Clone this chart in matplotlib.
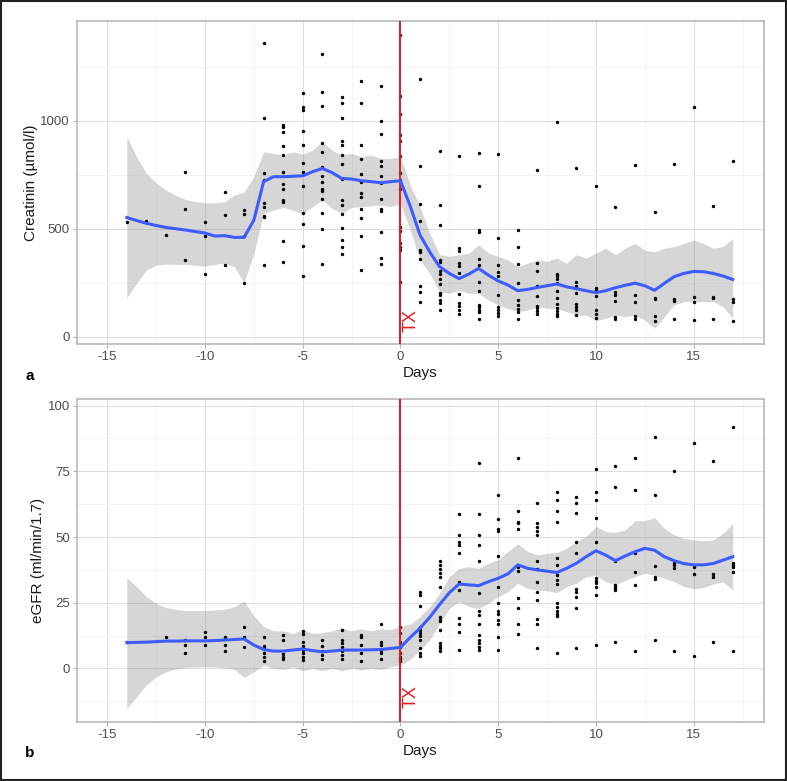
import matplotlib
matplotlib.use("Agg")
import matplotlib.pyplot as plt
from matplotlib.patches import Rectangle

plt.rcParams['font.family'] = ['Liberation Sans', 'DejaVu Sans']
plt.rcParams['axes.unicode_minus'] = False

# panel a: creatinin measurements per day
crea_x = ([-14] + [-13] + [-12] + [-11] * 3 + [-10] * 3 + [-9] * 3 + [-8] * 4 + [-7] * 9
          + [-6] * 12 + [-5] * 12 + [-4] * 14 + [-3] * 15 + [-2] * 12 + [-1] * 13 + [0] * 15
          + [1] * 10 + [2] * 14 + [3] * 11 + [4] * 13 + [5] * 10 + [6] * 9 + [7] * 9 + [8] * 12
          + [9] * 8 + [10] * 7 + [11] * 6 + [12] * 5 + [13] * 5 + [14] * 4 + [15] * 4 + [16] * 4 + [17] * 4)
crea_y = [529,
          537,
          472,
          762, 590, 355,
          532, 466, 289,
          668, 563, 330,
          586, 569, 466, 250,
          1358, 1012, 758, 725, 620, 602, 559, 552, 330,
          981, 971, 948, 881, 840, 762, 705, 682, 631, 622, 441, 344,
          1127, 1063, 1048, 952, 889, 804, 762, 699, 574, 523, 421, 279,
          1307, 1134, 1068, 895, 856, 787, 744, 718, 684, 677, 637, 571, 497, 338,
          1108, 1080, 1014, 906, 886, 843, 802, 730, 634, 611, 568, 503, 449, 415, 381,
          1185, 1080, 890, 823, 752, 715, 667, 647, 593, 548, 466, 310,
          1160, 997, 941, 813, 792, 745, 713, 637, 590, 582, 486, 366, 338,
          1397, 1116, 1032, 932, 906, 838, 756, 725, 684, 508, 488, 435, 417, 401, 255,
          1194, 789, 616, 535, 403, 391, 358, 235, 207, 159,
          861, 611, 515, 356, 346, 304, 289, 265, 242, 204, 191, 170, 157, 123,
          838, 410, 398, 343, 329, 296, 199, 156, 142, 123, 105,
          853, 696, 492, 485, 361, 330, 255, 210, 148, 137, 125, 113, 83,
          847, 458, 332, 301, 279, 194, 136, 123, 108, 96,
          494, 417, 335, 248, 170, 147, 127, 113, 80,
          770, 340, 302, 236, 188, 142, 131, 119, 106,
          992, 290, 279, 265, 250, 211, 181, 150, 131, 117, 106, 96,
          779, 255, 235, 202, 150, 137, 125, 99,
          699, 225, 216, 188, 123, 106, 85,
          599, 208, 191, 164, 93, 82,
          793, 194, 162, 94, 80,
          577, 181, 173, 97, 71,
          802, 174, 164, 83,
          1062, 184, 160, 76,
          605, 185, 178, 82,
          812, 176, 159, 71]

# panel b: eGFR measurements per day
egfr_x = ([-14] + [-12] + [-11] * 3 + [-10] * 3 + [-9] * 3 + [-8] * 3 + [-7] * 6 + [-6] * 5
          + [-5] * 8 + [-4] * 5 + [-3] * 7 + [-2] * 5 + [-1] * 6 + [0] * 8
          + [1] * 11 + [2] * 14 + [3] * 11 + [4] * 14 + [5] * 13 + [6] * 11 + [7] * 13 + [8] * 15
          + [9] * 10 + [10] * 11 + [11] * 8 + [12] * 6 + [13] * 6 + [14] * 5 + [15] * 4 + [16] * 4 + [17] * 6)
egfr_y = [9.9,
          11.8,
          11.0, 8.9, 5.7,
          14.0, 11.8, 8.9,
          11.8, 8.9, 6.7,
          15.9, 11.8, 8.0,
          11.9, 8.5, 7.5, 5.7, 4.5, 2.9,
          12.8, 10.8, 5.6, 4.5, 3.6,
          14.1, 13.1, 10.1, 8.5, 7.2, 5.9, 4.5, 3.2,
          10.8, 8.5, 6.7, 5.1, 3.4,
          14.8, 10.8, 9.8, 8.2, 6.7, 5.1, 3.6,
          12.8, 11.8, 8.9, 5.7, 2.9,
          16.9, 10.0, 8.8, 7.2, 5.7, 3.6,
          15.9, 13.6, 10.0, 8.0, 5.7, 4.5, 3.6, 2.9,
          29.1, 28.0, 23.9, 15.8, 14.5, 13.3, 12.3, 10.8, 7.9, 5.9, 4.9,
          40.9, 39.4, 37.9, 36.4, 34.9, 30.8, 19.7, 18.4, 17.9, 14.8, 9.7, 8.5, 7.7, 6.7,
          58.9, 50.9, 48.1, 46.8, 44.1, 32.7, 29.8, 19.0, 16.8, 13.8, 7.0,
          78.0, 58.9, 50.9, 46.8, 40.9, 28.8, 21.9, 20.2, 16.8, 12.8, 11.0, 9.5, 8.2, 7.0,
          65.9, 57.0, 53.2, 52.2, 42.8, 31.1, 25.0, 21.9, 20.9, 18.4, 16.8, 12.0, 7.0,
          80.1, 60.0, 55.9, 55.2, 52.9, 38.7, 36.9, 26.8, 22.9, 16.8, 13.0,
          63.1, 55.2, 53.7, 52.2, 50.9, 40.9, 37.9, 32.8, 29.1, 25.9, 18.9, 16.8, 7.9,
          67.2, 64.1, 60.0, 55.9, 42.0, 39.2, 35.4, 33.8, 32.1, 25.0, 23.2, 21.9, 20.9, 19.9, 5.9,
          65.1, 63.1, 59.0, 48.1, 44.1, 30.1, 29.1, 27.1, 22.9, 7.9,
          75.9, 67.0, 64.1, 57.1, 48.0, 34.4, 33.4, 32.6, 31.0, 27.9, 8.9,
          77.0, 68.9, 40.8, 31.9, 31.1, 30.3, 29.7, 9.9,
          80.1, 68.0, 44.0, 36.8, 31.8, 6.8,
          88.0, 65.9, 39.0, 34.9, 34.1, 10.9,
          75.0, 40.0, 39.2, 38.3, 6.8,
          85.9, 38.7, 35.8, 4.9,
          79.0, 36.0, 34.9, 9.9,
          91.9, 40.1, 39.4, 38.6, 36.8, 6.8]

smooth_x = [-14, -13.5, -13, -12.5, -12, -11.5, -11, -10.5, -10, -9.5, -9, -8.5, -8, -7.5,
            -7, -6.5, -6, -5.5, -5, -4.5, -4, -3.5, -3, -2.5, -2, -1.5, -1, -0.5, 0,
            0.5, 1, 1.5, 2, 2.5, 3, 3.5, 4, 4.5, 5, 5.5, 6, 6.5, 7, 7.5, 8, 8.5, 9, 9.5,
            10, 10.5, 11, 11.5, 12, 12.5, 13, 13.5, 14, 14.5, 15, 15.5, 16, 16.5, 17]

crea_fit = [552, 538, 525, 515, 506, 500, 494, 487, 480, 466, 468, 460, 460, 540,
            718, 741, 741, 743, 745, 764, 779, 760, 733, 730, 722, 718, 713, 718, 722,
            605, 471, 392, 324, 293, 269, 290, 316, 285, 258, 239, 213, 219, 228, 236, 244, 231, 222, 213,
            204, 213, 227, 238, 248, 236, 215, 247, 278, 293, 302, 301, 293, 281, 265]
crea_lo = [181, 247, 309, 332, 336, 335, 335, 331, 327, 335, 340, 324, 250, 386,
           571, 586, 599, 586, 568, 602, 633, 594, 571, 599, 602, 606, 610, 602, 617,
           494, 355, 293, 208, 201, 216, 201, 201, 170, 147, 131, 116, 123, 139, 131, 131, 116, 100, 100,
           74, 85, 100, 93, 100, 77, 39, 93, 147, 162, 162, 162, 162, 139, 85]
crea_hi = [926, 833, 756, 712, 679, 655, 636, 626, 620, 620, 625, 656, 670, 741,
           856, 849, 841, 856, 846, 864, 903, 864, 841, 849, 833, 841, 826, 826, 833,
           702, 602, 478, 380, 372, 380, 387, 426, 387, 372, 356, 324, 340, 356, 349, 364, 340, 380, 364,
           387, 410, 380, 410, 432, 401, 393, 410, 417, 432, 448, 432, 410, 417, 455]

egfr_fit = [9.8, 9.9, 10.0, 10.2, 10.4, 10.4, 10.5, 10.5, 10.5, 10.6, 10.8, 11.0, 11.2, 8.9,
            7.2, 6.6, 6.6, 7.0, 7.4, 6.8, 6.3, 6.6, 7.0, 7.0, 7.0, 7.1, 7.2, 7.6, 8.0,
            11.8, 15.3, 19.5, 24.3, 28.8, 32.1, 31.8, 31.5, 33.0, 34.3, 36.0, 39.4, 38.1, 37.5, 37.0, 36.5, 38.1, 40.0, 42.5,
            44.8, 43.1, 41.0, 42.8, 44.4, 45.7, 45.0, 42.5, 41.0, 39.9, 39.4, 39.4, 39.9, 41.2, 42.5]
egfr_lo = [-15.2, -10.8, -6.3, -3.2, -1.3, -0.3, 0.4, 0.6, 0.6, 0.5, 0.3, -0.4, -3.4, -1.3,
           1.3, 0.0, -0.4, 0.6, -0.9, 0.0, -0.9, 0.0, -0.9, 0.0, -0.6, 0.0, -0.4, 0.6, 1.3,
           3.4, 7.0, 10.8, 17.2, 22.8, 25.4, 23.5, 22.8, 24.7, 27.3, 29.2, 32.4, 30.5, 29.8, 29.6, 28.8, 31.1, 32.4, 34.9,
           35.5, 33.0, 31.7, 33.6, 34.9, 36.2, 35.5, 34.3, 33.0, 31.1, 30.3, 30.8, 32.1, 33.0, 29.8]
egfr_hi = [34.5, 31.1, 27.3, 24.7, 23.2, 22.5, 22.0, 22.0, 22.0, 22.2, 22.5, 23.5, 25.6, 20.0,
           15.9, 14.3, 14.3, 13.3, 14.8, 13.3, 13.6, 14.3, 15.4, 14.3, 15.1, 14.3, 15.1, 14.8, 16.0,
           16.9, 19.7, 23.5, 28.6, 34.9, 38.1, 38.7, 38.1, 40.0, 41.3, 44.5, 47.4, 44.5, 43.2, 43.8, 44.1, 45.7, 48.3, 50.2,
           54.0, 52.1, 51.8, 52.7, 56.2, 56.2, 57.4, 53.3, 50.8, 49.5, 48.9, 48.6, 48.9, 51.4, 55.2]

x_ticks = [-15, -10, -5, 0, 5, 10, 15]
crea_ticks = [0, 500, 1000]
egfr_ticks = [0, 25, 50, 75, 100]

fig = plt.figure(figsize=(7.87, 7.81), dpi=100)
ax_a = fig.add_axes([0.0978, 0.5595, 0.8730, 0.4136])
ax_b = fig.add_axes([0.0978, 0.0755, 0.8730, 0.4132])


def style(ax, yticks, ylim, yminor):
    ax.set_xlim(-16.55, 18.6)
    ax.set_ylim(*ylim)
    ax.set_xticks(x_ticks)
    ax.set_yticks(yticks)
    ax.set_xticks([-12.5, -7.5, -2.5, 2.5, 7.5, 12.5, 17.5], minor=True)
    ax.set_yticks(yminor, minor=True)
    ax.grid(which='major', color='#dedede', linewidth=0.75)
    ax.grid(which='minor', color='#efefef', linewidth=0.5)
    ax.set_axisbelow(True)
    for sp in ax.spines.values():
        sp.set_color('#b3b3b3')
        sp.set_linewidth(1.1)
    ax.tick_params(which='major', length=3, color='#b3b3b3', labelsize=9.5,
                   labelcolor='#4d4d4d', pad=2)
    ax.tick_params(which='minor', length=0)
    ax.set_xlabel('Days', fontsize=11, color='#1a1a1a', labelpad=2)


# panel a
ax_a.fill_between(smooth_x, crea_lo, crea_hi, color='#999999', alpha=0.4, linewidth=0, zorder=2)
ax_a.scatter(crea_x, crea_y, s=6, color='black', linewidths=0, zorder=3)
ax_a.plot(smooth_x, crea_fit, color='#3d5cff', linewidth=2.2, zorder=4)
ax_a.axvline(0, color='#e41a1c', linewidth=1.4, zorder=3)
ax_a.text(0.1, 22, 'TX', color='#e41a1c', rotation=90, fontsize=13, ha='left', va='bottom')
style(ax_a, crea_ticks, (-34, 1462), [250, 750, 1250])
ax_a.set_ylabel('Creatinin (\u00b5mol/l)', fontsize=11, color='#1a1a1a', labelpad=2)

# panel b
ax_b.fill_between(smooth_x, egfr_lo, egfr_hi, color='#999999', alpha=0.4, linewidth=0, zorder=2)
ax_b.scatter(egfr_x, egfr_y, s=6, color='black', linewidths=0, zorder=3)
ax_b.plot(smooth_x, egfr_fit, color='#3d5cff', linewidth=2.2, zorder=4)
ax_b.axvline(0, color='#e41a1c', linewidth=1.4, zorder=3)
ax_b.text(0.1, -15, 'TX', color='#e41a1c', rotation=90, fontsize=13, ha='left', va='bottom')
style(ax_b, egfr_ticks, (-20.4, 102.4), [-12.5, 12.5, 37.5, 62.5, 87.5])
ax_b.set_ylabel('eGFR (ml/min/1.7)', fontsize=11, color='#1a1a1a', labelpad=2)

fig.text(25 / 787, 1 - 376 / 781, 'a', fontsize=11, fontweight='bold', va='center')
fig.text(25 / 787, 1 - 753 / 781, 'b', fontsize=11, fontweight='bold', va='center')

# outer frame
fig.patches.append(Rectangle((0.001, 0.001), 0.998, 0.998, transform=fig.transFigure,
                             fill=False, edgecolor='#222222', linewidth=1.5))

fig.savefig('out.png', dpi=100)
